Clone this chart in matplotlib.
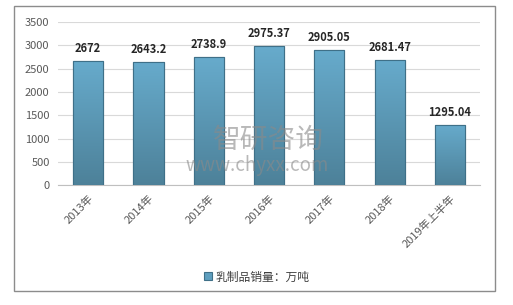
import matplotlib
matplotlib.use("Agg")
import matplotlib.pyplot as plt
import numpy as np
from matplotlib.colors import LinearSegmentedColormap
from matplotlib.patches import Rectangle

plt.rcParams["font.family"] = ["Noto Sans CJK SC", "DejaVu Sans"]

categories = ["2013年", "2014年", "2015年", "2016年", "2017年", "2018年", "2019年上半年"]
sales = [2672, 2643.2, 2738.9, 2975.37, 2905.05, 2681.47, 1295.04]
value_labels = ["2672", "2643.2", "2738.9", "2975.37", "2905.05", "2681.47", "1295.04"]
legend_label = "乳制品销量：万吨"

fig = plt.figure(figsize=(5.13, 3.05), dpi=100)
ax = fig.add_axes([0.113, 0.393, 0.823, 0.535])

x = np.arange(len(categories))
bars = ax.bar(x, sales, width=0.5, color="#5e9fbf", edgecolor="#3f7088",
              linewidth=0.8, label=legend_label, zorder=3)

# vertical gradient inside each bar
grad = LinearSegmentedColormap.from_list("bar", ["#4d8199", "#67abcc"])
g = np.linspace(0, 1, 256).reshape(-1, 1)
for b in bars:
    im = ax.imshow(g, cmap=grad, origin="lower", aspect="auto",
                   extent=[b.get_x(), b.get_x() + b.get_width(), 0, b.get_height()],
                   zorder=3.5)
    im.set_clip_path(b)
    ax.add_patch(Rectangle((b.get_x(), 0), b.get_width(), b.get_height(),
                           fill=False, edgecolor="#3f7088", linewidth=0.8, zorder=4))

for xi, v, lab in zip(x, sales, value_labels):
    ax.text(xi, v + 130, lab, ha="center", va="bottom", fontsize=8,
            fontweight="bold", color="#262626", zorder=5)

ax.set_xlim(-0.5, len(categories) - 0.5)
ax.set_ylim(0, 3500)
ax.set_yticks(range(0, 3501, 500))
ax.yaxis.grid(True, color="#d9d9d9", linewidth=0.8, zorder=0)
ax.set_axisbelow(True)
for s in ["top", "right", "left"]:
    ax.spines[s].set_visible(False)
ax.spines["bottom"].set_color("#bfbfbf")
ax.tick_params(axis="both", length=0, labelsize=8, colors="#595959", pad=6)
ax.set_xticks(x)
ax.set_xticklabels(categories, rotation=45, ha="right", rotation_mode="anchor")

# watermark
fig.text(213 / 513, 1 - 140 / 305, "智研咨询", fontsize=20, color="#8a8a8a", alpha=0.6,
         ha="left", va="center", zorder=10)
fig.text(185 / 513, 1 - 165 / 305, "www.chyxx.com", fontsize=13.5, color="#8a8a8a",
         alpha=0.6, ha="left", va="center", zorder=10)

handles = [Rectangle((0, 0), 1, 1, facecolor="#5e9fbf", edgecolor="#3f7088", linewidth=0.8)]
fig.legend(handles, [legend_label], loc="center", bbox_to_anchor=(0.5, 0.092),
           frameon=False, fontsize=8.5, handlelength=0.7, handleheight=0.7,
           handletextpad=0.3, labelcolor="#404040")

fig.patches.append(Rectangle((14 / 513, 1 - 291 / 305), 481 / 513, 285 / 305,
                             transform=fig.transFigure, fill=False,
                             edgecolor="#8c8c8c", linewidth=1.0))

fig.savefig("out.png", dpi=100)
